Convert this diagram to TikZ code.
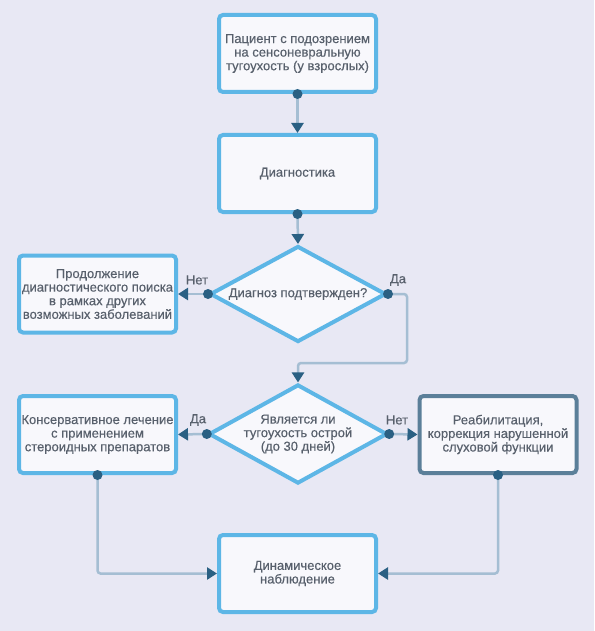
\documentclass[tikz,border=0pt]{standalone}
\usepackage{fontspec}
\setmainfont{Liberation Sans}
\newfontfamily\medfont{Liberation Sans}[FakeBold=0.35]
\usetikzlibrary{shapes.geometric,arrows.meta,positioning,calc}
\usepackage{xcolor}
\definecolor{bgpanel}{RGB}{232,232,244}
\definecolor{boxfill}{RGB}{248,248,252}
\definecolor{boxblue}{RGB}{93,182,230}
\definecolor{boxslate}{RGB}{91,127,153}
\definecolor{linkgray}{RGB}{165,190,211}
\definecolor{tipdark}{RGB}{42,96,131}
\definecolor{txtgray}{RGB}{88,96,108}

\tikzset{
    procbox/.style={rectangle, draw=boxblue, line width=4pt, fill=boxfill, rounded corners=4pt,
        minimum width=157pt, minimum height=77pt, align=center, text=txtgray, inner sep=1pt,
        font=\medfont\fontsize{13}{13.6}\selectfont},
    decision/.style={diamond, draw=boxblue, line width=4pt, fill=boxfill, aspect=1.8,
        minimum width=176pt, minimum height=96pt, inner sep=0pt, align=center, text=txtgray,
        font=\medfont\fontsize{13}{13.6}\selectfont},
    link/.style={draw=linkgray, line width=2.5pt, rounded corners=3pt,
        -{Triangle[width=12pt,length=10pt,color=tipdark]}},
    lbl/.style={text=txtgray, font=\medfont\fontsize{13}{13}\selectfont},
    pin/.style={fill=tipdark}
}

\begin{document}
\begin{tikzpicture}[x=1pt,y=-1pt]
    \fill[bgpanel] (0,0) rectangle (594,631);
    \useasboundingbox (0,0) rectangle (594,631);

    \node[procbox] (patient) at (297.5,53.5) {Пациент с подозрением\\на сенсоневральную\\тугоухость (у взрослых)};
    \node[procbox] (diag) at (297.5,173.5) {Диагностика};
    \node[decision] (confirmed) at (298,294) {Диагноз подтвержден?};
    \node[procbox] (search) at (97.5,294) {Продолжение\\диагностического поиска\\в рамках других\\возможных заболеваний};
    \node[decision] (acute) at (298,434) {Является ли\\тугоухость острой\\(до 30 дней)};
    \node[procbox] (steroid) at (97.5,434.5) {Консервативное лечение\\с применением\\стероидных препаратов};
    \node[procbox, draw=boxslate] (rehab) at (498,434.5) {Реабилитация,\\коррекция нарушенной\\слуховой функции};
    \node[procbox] (watch) at (297.5,573.5) {Динамическое\\наблюдение};

    \coordinate (bend) at (407,363);

    % connectors
    \draw[link] (patient.south) -- (diag.north);
    \draw[link] (diag.south) -- (confirmed.north);
    \draw[link] (confirmed.west) -- (search.east);
    \draw[link] (confirmed.east) -| (bend) -| (acute.north);
    \draw[link] (acute.west) -- (steroid.east);
    \draw[link] (acute.east) -- (rehab.west);
    \draw[link] (steroid.south) |- (watch.west);
    \draw[link] (rehab.south) |- (watch.east);

    \foreach \p in {patient.south, diag.south, confirmed.west, confirmed.east,
                    acute.west, acute.east, steroid.south, rehab.south}
        \fill[pin] (\p) circle[radius=5pt];

    \node[lbl] (no1) at (197,280) {Нет};
    \node[lbl] (yes1) at (398,280) {Да};
    \node[lbl] (yes2) at (198,420) {Да};
    \node[lbl] (no2) at (397,420) {Нет};
\end{tikzpicture}
\end{document}
